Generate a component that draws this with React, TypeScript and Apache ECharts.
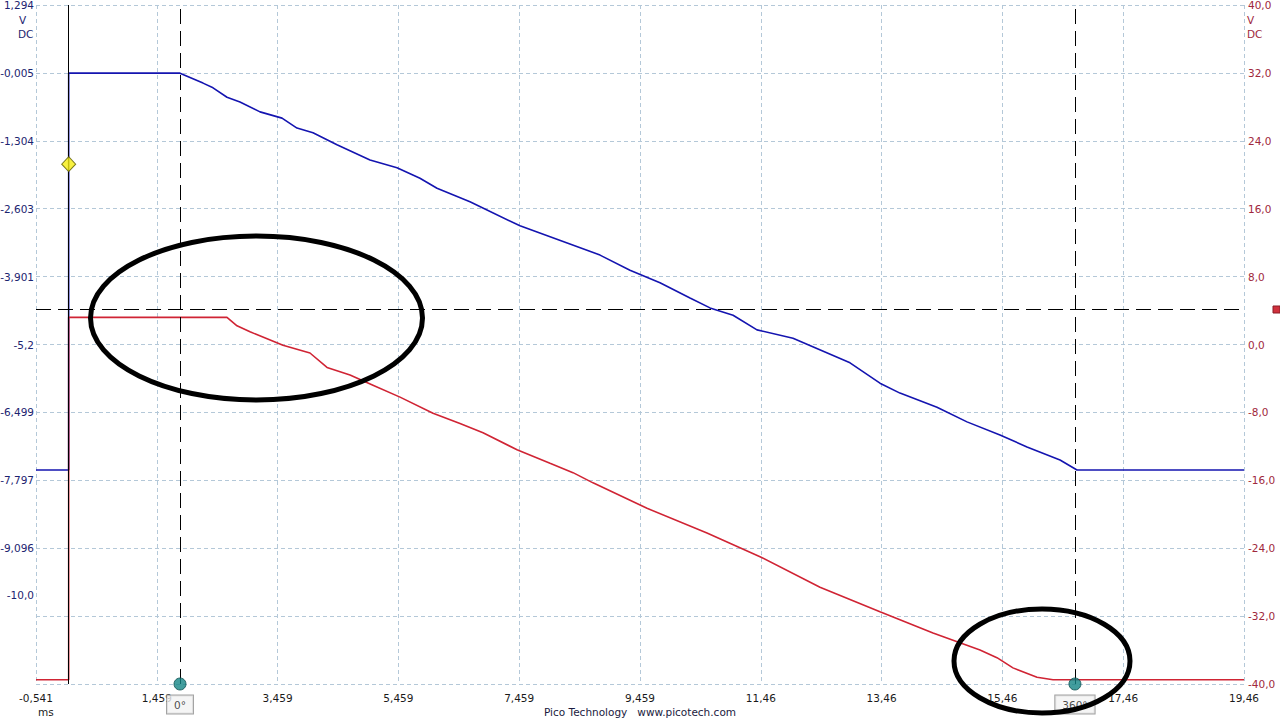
import React, { useEffect, useRef } from "react";
import * as echarts from "echarts";

// ---- data ----
const timeTicks = [-0.541, 1.459, 3.459, 5.459, 7.459, 9.459, 11.459, 13.459, 15.459, 17.459, 19.459];
const timeTickLabels = ["-0,541", "1,459", "3,459", "5,459", "7,459", "9,459", "11,46", "13,46", "15,46", "17,46", "19,46"];

const leftTicks = [1.294, -0.005, -1.304, -2.603, -3.901, -5.2, -6.499, -7.797, -9.096, -10.0];
const leftTickLabels = ["1,294", "-0,005", "-1,304", "-2,603", "-3,901", "-5,2", "-6,499", "-7,797", "-9,096", "-10,0"];

const blueTimes = [-0.541, 0.0, 0.0, 1.843, 2.224, 2.39, 2.621, 2.836, 3.168, 3.532, 3.78, 4.045, 4.442, 4.989, 5.436, 5.816, 6.098, 6.644, 7.472, 8.797, 9.293, 9.79, 10.287, 10.618, 11.0, 11.396, 11.992, 12.936, 13.432, 13.763, 14.376, 14.873, 15.419, 15.866, 16.413, 16.694, 19.459];
const blueValues = [-7.6, -7.6, -0.01, -0.01, -0.2, -0.29, -0.47, -0.56, -0.75, -0.87, -1.06, -1.15, -1.38, -1.67, -1.82, -2.02, -2.21, -2.47, -2.93, -3.49, -3.78, -4.02, -4.31, -4.5, -4.64, -4.92, -5.08, -5.55, -5.94, -6.13, -6.4, -6.68, -6.93, -7.16, -7.41, -7.6, -7.6];

const redTimes = [-0.541, 0.0, 0.0, 2.621, 2.787, 3.002, 3.548, 3.995, 4.277, 4.658, 5.038, 5.486, 6.032, 6.479, 6.86, 7.423, 7.969, 8.35, 8.681, 9.575, 10.568, 11.446, 12.439, 13.432, 14.31, 15.088, 15.369, 15.634, 16.032, 16.297, 19.459];
const redValues = [-39.5, -39.5, 3.2, 3.2, 2.2, 1.5, -0.1, -1.0, -2.7, -3.6, -4.8, -6.2, -8.1, -9.3, -10.4, -12.4, -14.0, -15.1, -16.3, -19.3, -22.2, -25.0, -28.6, -31.5, -34.0, -36.0, -36.9, -38.1, -39.2, -39.5, -39.5];

const triggerTime = 0.0;
const triggerLevel = -1.75; // left axis (V)
const cursorTimes = [1.843, 16.66];
const cursorLabels = ["0°", "360°"];
const hCursorLevel = 4.18; // right axis (V)

const LEFT_COLOR = "#1c2470";
const RIGHT_COLOR = "#a0283c";
const FONT = "DejaVu Sans";

export default function App() {
  const ref = useRef<HTMLDivElement>(null);

  useEffect(() => {
    if (!ref.current) return;
    const chart = echarts.init(ref.current, undefined, { renderer: "svg" });

    const blueData = blueTimes.map((t, i) => [t, blueValues[i]]);
    const redData = redTimes.map((t, i) => [t, redValues[i]]);
    const gridLine = { show: true, lineStyle: { color: "#b4c8d8", width: 1, type: [4, 3] as any } };
    const dashBlack = { color: "#000", width: 1, type: [15, 7] as any };

    chart.setOption({
      animation: false,
      backgroundColor: "#ffffff",
      grid: { left: 36, right: 36, top: 5, bottom: 36, containLabel: false, outerBoundsMode: "none" },
      xAxis: {
        type: "value",
        min: -0.541,
        max: 19.459,
        axisLine: { show: false },
        axisTick: { show: false, customValues: timeTicks },
        splitLine: gridLine,
        axisLabel: {
          customValues: timeTicks,
          margin: 8,
          color: "#1a1a1a",
          fontFamily: FONT,
          fontSize: 10.5,
          formatter: (v: number) => {
            const i = timeTicks.findIndex((t) => Math.abs(t - v) < 1e-6);
            return i >= 0 ? timeTickLabels[i] : "";
          },
        },
      },
      yAxis: [
        {
          type: "value",
          position: "left",
          min: -11.694,
          max: 1.294,
          axisLine: { show: false },
          axisTick: { show: false },
          splitLine: { show: false },
          axisLabel: {
            customValues: leftTicks,
            margin: 2,
            color: LEFT_COLOR,
            fontFamily: FONT,
            fontSize: 10.5,
            formatter: (v: number) => {
              const i = leftTicks.findIndex((t) => Math.abs(t - v) < 1e-6);
              return i >= 0 ? leftTickLabels[i] : "";
            },
          },
        },
        {
          type: "value",
          position: "right",
          min: -40,
          max: 40,
          interval: 8,
          axisLine: { show: false },
          axisTick: { show: false },
          splitLine: gridLine,
          axisLabel: {
            margin: 4,
            color: RIGHT_COLOR,
            fontFamily: FONT,
            fontSize: 10.5,
            formatter: (v: number) => v.toFixed(1).replace(".", ","),
          },
        },
      ],
      series: [
        {
          name: "cursors",
          type: "line",
          yAxisIndex: 0,
          data: [],
          z: 1,
          silent: true,
          markLine: {
            symbol: "none",
            silent: true,
            label: { show: false },
            data: [
              { xAxis: triggerTime, lineStyle: { color: "#000", width: 1, type: "solid" } },
              ...cursorTimes.map((t) => ({ xAxis: t, lineStyle: dashBlack })),
            ],
          },
        },
        {
          name: "hcursor",
          type: "line",
          yAxisIndex: 1,
          data: [],
          z: 1,
          silent: true,
          markLine: {
            symbol: "none",
            silent: true,
            label: { show: false },
            data: [{ yAxis: hCursorLevel, lineStyle: dashBlack }],
          },
        },
        {
          name: "Channel A",
          type: "line",
          yAxisIndex: 0,
          data: blueData,
          showSymbol: false,
          lineStyle: { color: "#1414b0", width: 1.6 },
          z: 3,
        },
        {
          name: "Channel B",
          type: "line",
          yAxisIndex: 1,
          data: redData,
          showSymbol: false,
          lineStyle: { color: "#d02434", width: 1.6 },
          z: 3,
        },
        {
          name: "trigger",
          type: "scatter",
          yAxisIndex: 0,
          data: [[triggerTime, triggerLevel]],
          symbol: "diamond",
          symbolSize: [14, 15],
          itemStyle: { color: "#f6ee10", borderColor: "#5a5a00", borderWidth: 1 },
          z: 5,
        },
        {
          name: "rulers",
          type: "scatter",
          yAxisIndex: 1,
          data: cursorTimes.map((t) => [t, -40]),
          symbolSize: 12,
          clip: false,
          itemStyle: { color: "#138484", borderColor: "#0b4f4f", borderWidth: 1 },
          label: {
            show: true,
            position: "bottom",
            distance: 5,
            formatter: (p: any) => cursorLabels[p.dataIndex],
            color: "#1a1a1a",
            fontFamily: FONT,
            fontSize: 10.5,
            backgroundColor: "#f2f2f2",
            borderColor: "#8a8a8a",
            borderWidth: 1,
            padding: [4, 7, 3, 7],
          },
          z: 6,
        },
      ],
      graphic: [
        { type: "text", left: 19, top: 14, style: { text: "V", fill: LEFT_COLOR, font: `10.5px "${FONT}"` } },
        { type: "text", left: 18, top: 28, style: { text: "DC", fill: LEFT_COLOR, font: `10.5px "${FONT}"` } },
        { type: "text", left: 1247, top: 14, style: { text: "V", fill: RIGHT_COLOR, font: `10.5px "${FONT}"` } },
        { type: "text", left: 1247, top: 28, style: { text: "DC", fill: RIGHT_COLOR, font: `10.5px "${FONT}"` } },
        { type: "text", left: 38, top: 706, style: { text: "ms", fill: "#1a1a1a", font: `10.5px "${FONT}"` } },
        {
          type: "text",
          left: "center",
          top: 706,
          style: { text: "Pico Technology   www.picotech.com", fill: "#1a1a40", font: `10.5px "${FONT}"` },
        },
        {
          type: "rect",
          shape: { x: 1273, y: 306, width: 7, height: 7 },
          style: { fill: "#d0303c", stroke: "#8a1c26", lineWidth: 1 },
          z: 10,
        },
        {
          type: "ellipse",
          shape: { cx: 256.5, cy: 318, rx: 166, ry: 82 },
          style: { fill: "none", stroke: "#000", lineWidth: 5 },
          z: 10,
        },
        {
          type: "ellipse",
          shape: { cx: 1042, cy: 661, rx: 88, ry: 52 },
          style: { fill: "none", stroke: "#000", lineWidth: 5 },
          z: 10,
        },
      ],
    });

    return () => chart.dispose();
  }, []);

  return (
    <div
      ref={ref}
      style={{ position: "fixed", left: 0, top: 0, width: 1280, height: 720, background: "#fff" }}
    />
  );
}
